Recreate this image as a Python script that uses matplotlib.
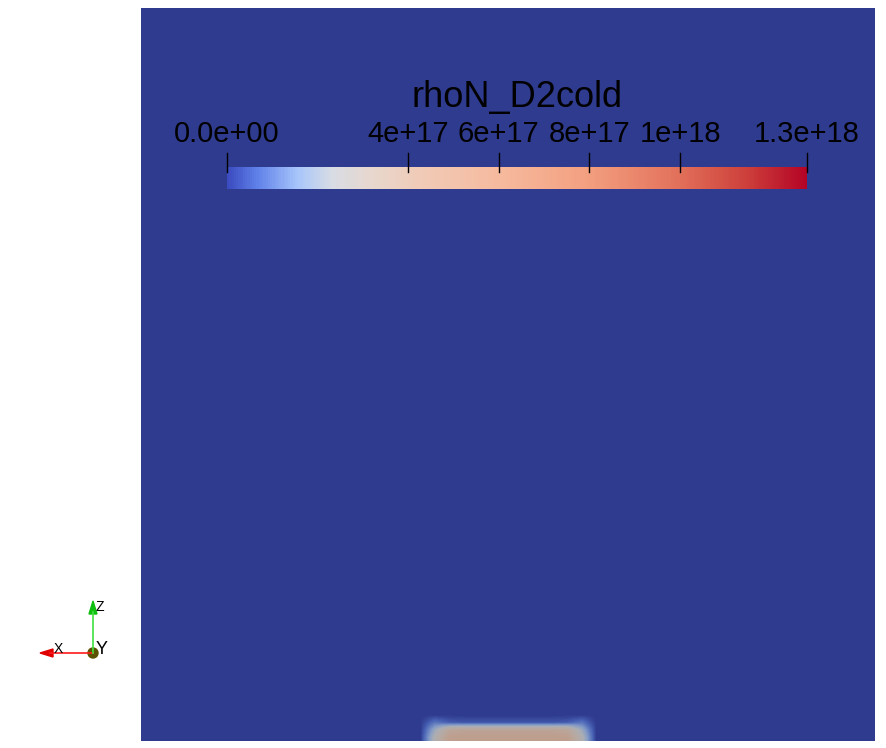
import numpy as np
import matplotlib.pyplot as plt
from matplotlib.colors import LinearSegmentedColormap, Normalize, to_rgb
from matplotlib.cm import ScalarMappable
from matplotlib.patches import Circle, Polygon

plt.rcParams['font.family'] = ['Liberation Sans', 'DejaVu Sans']

# colour scale of rhoN_D2cold
var_name = 'rhoN_D2cold'
v_min = 0.0
v_max = 1.28e18
tick_values = [0.0, 4e17, 6e17, 8e17, 1e18, 1.28e18]
tick_labels = ['0.0e+00', '4e+17', '6e+17', '8e+17', '1e+18', '1.3e+18']

# bar colormap (cool to warm, white point pushed low)
cmap_pos = [0.0, 0.05, 0.12, 0.18, 0.25, 0.33, 0.47, 0.62, 0.78, 0.90, 1.0]
cmap_hex = ['#3b4cc0', '#5f80e8', '#a7c5fb', '#d8dce4', '#e8d7ce', '#f0cbb7',
            '#f6ba9e', '#f3a080', '#e2705a', '#cc3e3a', '#b40426']

# density field near the bottom edge (x, y as fraction of the domain)
hot_x = [0.37, 0.63]
hot_y = [0.0, 0.04]
hot_vals = np.array([
    [0, 0, 0, 0, 0, 0, 0, 0, 0, 0, 0, 0, 0],
    [0, 0.9e17, 0.5e17, 0.4e17, 0.4e17, 0.4e17, 0.4e17, 0.4e17, 0.4e17, 0.4e17, 0.5e17, 0.9e17, 0],
    [0, 2.0e17, 3.6e17, 3.8e17, 3.8e17, 3.8e17, 3.8e17, 3.8e17, 3.8e17, 3.8e17, 3.6e17, 2.0e17, 0],
    [0, 2.6e17, 4.4e17, 4.5e17, 4.5e17, 4.5e17, 4.5e17, 4.5e17, 4.5e17, 4.5e17, 4.4e17, 2.6e17, 0],
])

W, H = 887, 748
fig = plt.figure(figsize=(W / 100, H / 100), dpi=100)

bar_cmap = LinearSegmentedColormap.from_list('c2w', list(zip(cmap_pos, cmap_hex)))
# shaded version used on the rendered surface
shade = 0.79
field_hex = ['#2f3b8f'] + [tuple(c * shade for c in to_rgb(h)) for h in cmap_hex[1:]]
field_cmap = LinearSegmentedColormap.from_list('c2w_shaded', list(zip(cmap_pos, field_hex)))
norm = Normalize(v_min, v_max)

# the surface
ax = fig.add_axes([141 / W, 7 / H, 734 / W, 733 / H])
ax.set_facecolor(field_cmap(0.0))
ax.imshow(hot_vals, cmap=field_cmap, norm=norm, origin='upper',
          extent=[hot_x[0], hot_x[1], hot_y[0], hot_y[1]],
          interpolation='bilinear', interpolation_stage='data', aspect='auto')
ax.set_xlim(0, 1)
ax.set_ylim(0, 1)
ax.set_xticks([])
ax.set_yticks([])
for s in ax.spines.values():
    s.set_visible(False)

# colour bar
cax = fig.add_axes([227 / W, (H - 189) / H, 580 / W, 22 / H])
cb = fig.colorbar(ScalarMappable(norm=norm, cmap=bar_cmap), cax=cax, orientation='horizontal')
cb.outline.set_visible(False)
cax.set_xticks([])
cax.set_yticks([])
for v, lab in zip(tick_values, tick_labels):
    cax.plot([v, v], [0.77, 1.64], color='black', lw=1, clip_on=False)
    cax.text(v, 2.14, lab, ha='center', va='baseline', fontsize=21, color='black')
cax.text(0.5, 3.73, var_name, transform=cax.transAxes, ha='center', va='baseline',
         fontsize=26, color='black')

# orientation triad (pixel coordinates)
ov = fig.add_axes([0, 0, 1, 1], zorder=5)
ov.set_xlim(0, W)
ov.set_ylim(H, 0)
ov.axis('off')
ox, oy = 93, 653
ov.plot([ox, 50], [oy, oy], color='#ff1a1a', lw=1.2)
ov.add_patch(Polygon([[40, oy], [53, oy - 4], [53, oy + 4]], closed=True, color='#e00000'))
ov.plot([ox, ox], [oy, 612], color='#40e040', lw=1.2)
ov.add_patch(Polygon([[ox, 601], [ox - 4, 614], [ox + 4, 614]], closed=True, color='#10c010'))
ov.add_patch(Circle((ox, oy), 5, color='#5a5200'))
ov.text(58, 649, 'X', fontsize=10, ha='center', va='center')
ov.text(102, 649, 'Y', fontsize=13, ha='center', va='center')
ov.text(100, 607, 'Z', fontsize=10, ha='center', va='center')

fig.savefig('out.png', dpi=100)
